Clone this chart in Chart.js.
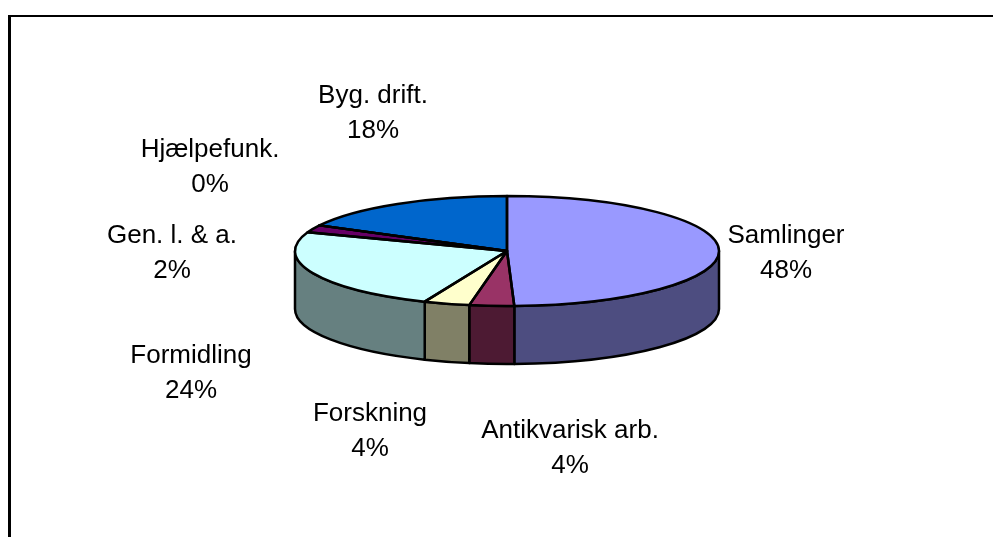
<!DOCTYPE html>
<html>
<head>
<meta charset="utf-8">
<title>Fordeling</title>
<style>
  html, body { margin: 0; padding: 0; background: #fff; overflow: hidden; }
  #wrap { position: relative; width: 993px; height: 537px; }
  #frameTop { position: absolute; left: 8px; top: 15px; right: 0; height: 2px; background: #000; }
  #frameLeft { position: absolute; left: 8px; top: 15px; bottom: 0; width: 3px; background: #000; }
</style>
<script src="https://cdn.jsdelivr.net/npm/chart.js@4"></script>
</head>
<body>
<div id="wrap">
  <canvas id="pie" width="993" height="537"></canvas>
  <div id="frameTop"></div>
  <div id="frameLeft"></div>
</div>
<script>
// Kategorier og andele
const kategorier = ['Samlinger', 'Antikvarisk arb.', 'Forskning', 'Formidling', 'Gen. l. & a.', 'Hjælpefunk.', 'Byg. drift.'];
const andele = [49.5, 3.4, 3.5, 24.2, 2.2, 0, 17.3];
// The percentages printed on the chart
const procentTekst = ['48%', '4%', '4%', '24%', '2%', '0%', '18%'];
const farver = ['#9999FF', '#993366', '#FFFFCC', '#CCFFFF', '#660066', '#FF8080', '#0066CC'];
const sideFarver = ['#4D4D80', '#4D1A33', '#808066', '#668080', '#330033', '#804040', '#003366'];

// Label centre x and first line baseline
const labelX = [786, 570, 370, 191, 172, 210, 373];
const labelY = [243, 438, 421, 363, 243, 157, 103];

const RX = 212;        // pie radius
const SQUASH = 55 / 212;
const DYBDE = 58;      // height of the side wall
const LINJE = 34.5;
const STREG = 2.5;

// Draws the 3D wall, then flattens the pie drawn by Chart.js
const pie3d = {
    id: 'pie3d',
    beforeDatasetsDraw(chart) {
        const ctx = chart.ctx;
        const arcs = chart.getDatasetMeta(0).data;
        const cx = arcs[0].x, cy = arcs[0].y;
        ctx.save();
        ctx.lineWidth = STREG;
        ctx.strokeStyle = '#000';
        ctx.lineJoin = 'round';
        arcs.forEach((arc, i) => {
            // only the front half of the ellipse shows a wall
            const a0 = Math.max(arc.startAngle, 0);
            const a1 = Math.min(arc.endAngle, Math.PI);
            if (a1 <= a0) return;
            ctx.beginPath();
            ctx.ellipse(cx, cy, RX, RX * SQUASH, 0, a0, a1);
            ctx.lineTo(cx + RX * Math.cos(a1), cy + RX * SQUASH * Math.sin(a1) + DYBDE);
            ctx.ellipse(cx, cy + DYBDE, RX, RX * SQUASH, 0, a1, a0, true);
            ctx.closePath();
            ctx.fillStyle = sideFarver[i];
            ctx.fill();
            ctx.stroke();
        });
        ctx.restore();

        ctx.save();
        ctx.translate(cx, cy);
        ctx.scale(1, SQUASH);
        ctx.translate(-cx, -cy);
    },
    afterDatasetsDraw(chart) {
        const ctx = chart.ctx;
        ctx.restore();
        const arcs = chart.getDatasetMeta(0).data;
        const cx = arcs[0].x, cy = arcs[0].y;

        // slice outlines, stroked after the flattening so the line stays even
        ctx.save();
        ctx.lineWidth = STREG;
        ctx.strokeStyle = '#000';
        ctx.lineJoin = 'round';
        arcs.forEach(arc => {
            ctx.beginPath();
            ctx.moveTo(cx, cy);
            ctx.ellipse(cx, cy, RX, RX * SQUASH, 0, arc.startAngle, arc.endAngle);
            ctx.closePath();
            ctx.stroke();
        });

        // data labels
        ctx.fillStyle = '#000';
        ctx.font = '26px "Liberation Sans", Arial, sans-serif';
        ctx.textAlign = 'center';
        ctx.textBaseline = 'alphabetic';
        kategorier.forEach((navn, i) => {
            ctx.fillText(navn, labelX[i], labelY[i]);
            ctx.fillText(procentTekst[i], labelX[i], labelY[i] + LINJE);
        });
        ctx.restore();
    }
};

new Chart(document.getElementById('pie'), {
    type: 'pie',
    data: {
        labels: kategorier,
        datasets: [{
            data: andele,
            backgroundColor: farver,
            borderWidth: 0
        }]
    },
    options: {
        responsive: false,
        animation: false,
        radius: RX,
        layout: { padding: { left: 21, right: 0, top: 0, bottom: 35 } },
        plugins: { legend: { display: false }, tooltip: { enabled: false } }
    },
    plugins: [pie3d]
});
</script>
</body>
</html>
